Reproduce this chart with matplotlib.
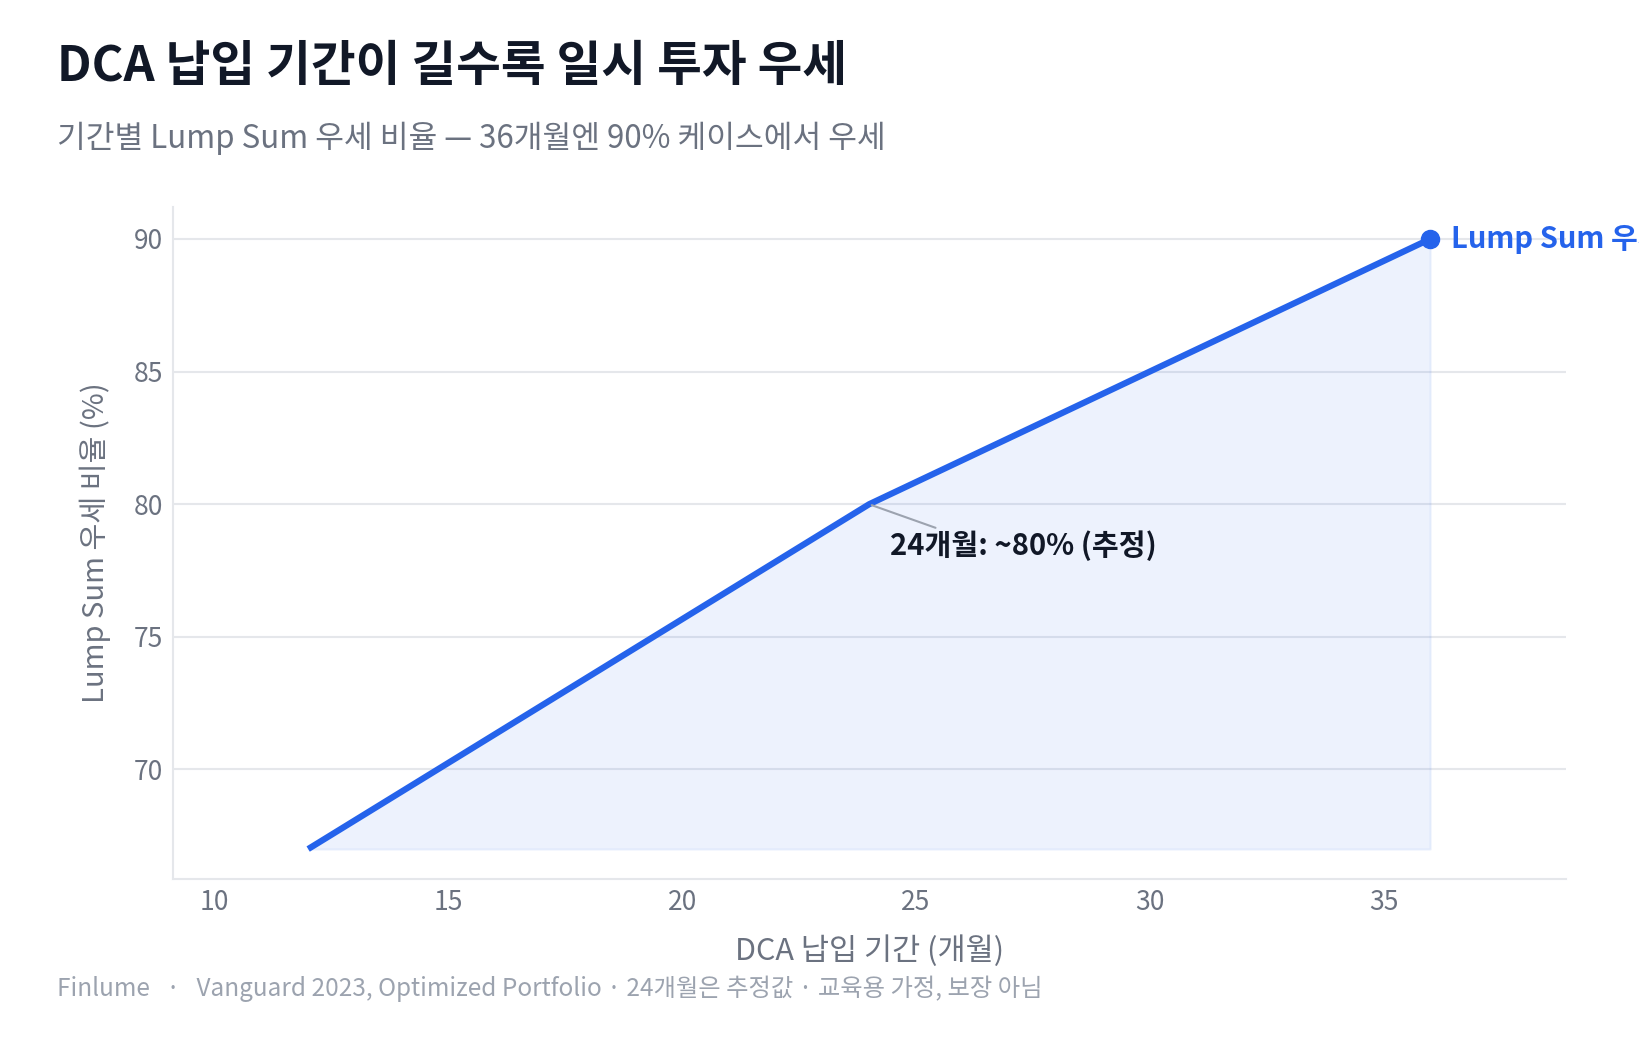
import matplotlib
matplotlib.use('Agg')
import matplotlib.pyplot as plt

plt.rcParams['font.family'] = ['Noto Sans CJK KR', 'DejaVu Sans']

# data
months = [12, 24, 36]
lump_win = [67, 80, 90]
x_ticks = [10, 15, 20, 25, 30, 35]
y_ticks = [70, 75, 80, 85, 90]

blue = '#2563eb'
grid_c = '#e5e7eb'
tick_c = '#6b7280'

fig = plt.figure(figsize=(16.39, 10.40), dpi=100, facecolor='white')
ax = fig.add_axes([0.1053, 0.1548, 0.85, 0.646])

ax.fill_between(months, lump_win, min(lump_win), color=blue, alpha=0.08,
                linewidth=1.5, edgecolor=(0.145, 0.388, 0.922, 0.06))
ax.plot(months, lump_win, color=blue, linewidth=4.5, solid_capstyle='butt', zorder=3)
ax.plot(months[-1], lump_win[-1], 'o', color=blue, markersize=13, zorder=4)

ax.set_xlim(9.1, 38.9)
ax.set_ylim(65.87, 91.2)
ax.set_xticks(x_ticks)
ax.set_yticks(y_ticks)
ax.tick_params(length=0, labelsize=19, labelcolor=tick_c, pad=7)
ax.grid(axis='y', color=grid_c, linewidth=1.5)
ax.set_axisbelow(True)
for s in ['top', 'right']:
    ax.spines[s].set_visible(False)
for s in ['left', 'bottom']:
    ax.spines[s].set_color(grid_c)
    ax.spines[s].set_linewidth(1.5)

ax.set_xlabel('DCA 납입 기간 (개월)', fontsize=22, color=tick_c, labelpad=14)
ax.set_ylabel('Lump Sum 우세 비율 (%)', fontsize=21, color=tick_c, labelpad=16)

ax.annotate('24개월: ~80% (추정)', xy=(months[1], lump_win[1]),
            xytext=(15, -30), textcoords='offset points',
            fontsize=21, fontweight='bold', color='#111827', va='center', ha='left',
            arrowprops=dict(arrowstyle='-', color='#9ca3af', lw=1.5,
                            shrinkA=0, shrinkB=2,
                            relpos=(0.2, 1.0)))

ax.annotate('Lump Sum 우세 90%', xy=(months[-1], lump_win[-1]),
            xytext=(15, 0), textcoords='offset points',
            fontsize=21, fontweight='bold', color=blue, va='center', ha='left',
            annotation_clip=False)

fig.text(0.035, 0.936, 'DCA 납입 기간이 길수록 일시 투자 우세', fontsize=35,
         fontweight='bold', color='#111827', va='center')
fig.text(0.035, 0.867, '기간별 Lump Sum 우세 비율 — 36개월엔 90% 케이스에서 우세', fontsize=22.5,
         color=tick_c, va='center')
fig.text(0.035, 0.049, 'Finlume   ·   Vanguard 2023, Optimized Portfolio · 24개월은 추정값 · 교육용 가정, 보장 아님',
         fontsize=17.5, color='#9ca3af', va='center')

fig.savefig('out.png', dpi=100, facecolor='white')
